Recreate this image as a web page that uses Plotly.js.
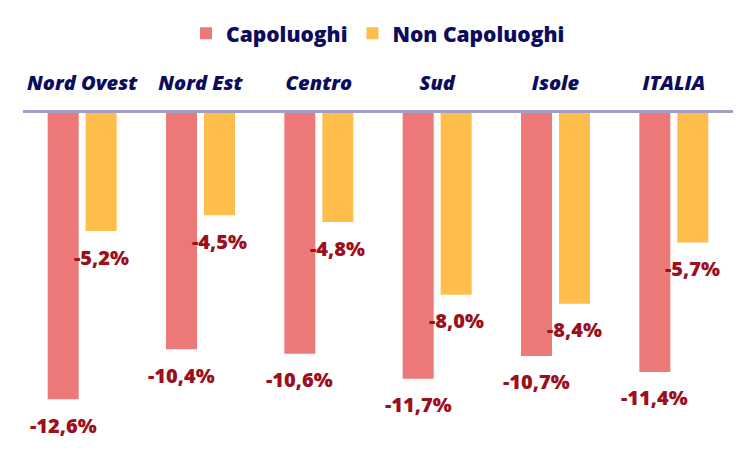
<!DOCTYPE html>
<html>
<head>
<meta charset="utf-8">
<script src="https://cdn.plot.ly/plotly-3.0.1.min.js"></script>
<style>
  html, body { margin: 0; padding: 0; background: #fff; }
  #chart { width: 756px; height: 454px; }
</style>
</head>
<body>
<div id="chart"></div>
<script>
// regions and the two series (variation %)
const areas = ["Nord Ovest", "Nord Est", "Centro", "Sud", "Isole", "ITALIA"];
const capoluoghi = [-12.6, -10.4, -10.6, -11.7, -10.7, -11.4];
const nonCapoluoghi = [-5.2, -4.5, -4.8, -8.0, -8.4, -5.7];

const navy = "#0c0c5c";
const labelRed = "#9c0f1c";
const fontFam = "'Open Sans', 'Noto Sans', sans-serif";

function fmt(v) {
    return v.toFixed(1).replace(".", ",") + "%";
}

const traces = [
    {
        type: "bar",
        name: "Capoluoghi",
        x: areas,
        y: capoluoghi,
        marker: { color: "#ec7878" },
        hoverinfo: "skip"
    },
    {
        type: "bar",
        name: "Non Capoluoghi",
        x: areas,
        y: nonCapoluoghi,
        marker: { color: "#ffbd4c" },
        hoverinfo: "skip"
    }
];

// value labels under the end of each bar
const annotations = [];
[[capoluoghi, -19], [nonCapoluoghi, 19]].forEach(([vals, dx]) => {
    vals.forEach((v, i) => {
        annotations.push({
            x: areas[i],
            y: v,
            text: fmt(v),
            showarrow: false,
            xshift: dx,
            yshift: -26,
            yanchor: "middle",
            font: { family: fontFam, size: 20, color: labelRed, weight: 800 }
        });
    });
});

const layout = {
    width: 756,
    height: 454,
    margin: { l: 23, r: 23, t: 113, b: 14 },
    paper_bgcolor: "#fff",
    plot_bgcolor: "#fff",
    barmode: "group",
    bargap: 0.358,
    bargroupgap: 0.184,
    showlegend: true,
    legend: {
        orientation: "h",
        x: 0.5,
        xanchor: "center",
        y: 0.971,
        yref: "container",
        yanchor: "top",
        font: { family: fontFam, size: 21, color: navy, weight: 800 },
        itemclick: false
    },
    xaxis: {
        side: "top",
        showline: true,
        linecolor: "#a0a0c8",
        linewidth: 3,
        ticks: "",
        ticklabelstandoff: 12,
        tickfont: { family: fontFam, size: 20, color: navy, weight: 800, style: "italic" },
        showgrid: false,
        fixedrange: true
    },
    yaxis: {
        range: [-14.4, 0],
        showgrid: false,
        zeroline: false,
        showticklabels: false,
        fixedrange: true
    },
    annotations: annotations
};

Plotly.newPlot("chart", traces, layout, { displayModeBar: false, staticPlot: true });
</script>
</body>
</html>
